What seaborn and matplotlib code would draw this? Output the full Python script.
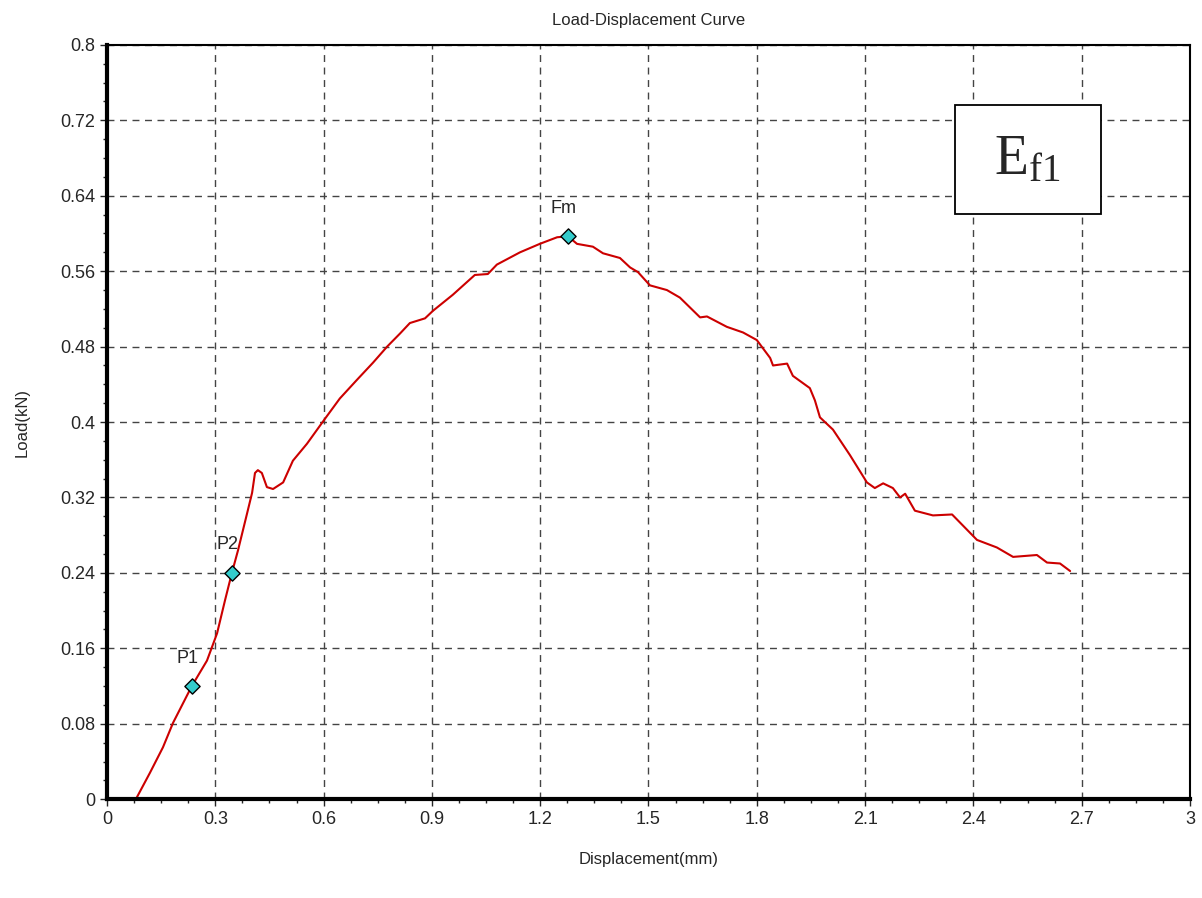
import numpy as np
import pandas as pd
import matplotlib
matplotlib.use('Agg')
import matplotlib.pyplot as plt
from matplotlib.patches import Rectangle
from matplotlib.ticker import AutoMinorLocator
import seaborn as sns

# Curve values
displacement = [0.080, 0.119, 0.155, 0.183, 0.235, 0.277, 0.305, 0.327, 0.346, 0.363,
                0.388, 0.402, 0.410, 0.418, 0.429, 0.443, 0.460, 0.488, 0.515, 0.554,
                0.601, 0.645, 0.693, 0.737, 0.776, 0.812, 0.839, 0.881, 0.903, 0.958,
                1.019, 1.055, 1.080, 1.144, 1.199, 1.247, 1.277, 1.302, 1.346, 1.374,
                1.421, 1.449, 1.471, 1.504, 1.551, 1.587, 1.643, 1.662, 1.717, 1.762,
                1.800, 1.837, 1.845, 1.884, 1.900, 1.947, 1.961, 1.975, 2.011, 2.058,
                2.105, 2.127, 2.150, 2.177, 2.197, 2.211, 2.238, 2.288, 2.341, 2.410,
                2.465, 2.510, 2.576, 2.604, 2.640, 2.668]
load = [0.000, 0.028, 0.055, 0.081, 0.120, 0.147, 0.176, 0.211, 0.240, 0.264,
        0.303, 0.325, 0.346, 0.349, 0.346, 0.331, 0.329, 0.336, 0.359, 0.377,
        0.402, 0.425, 0.445, 0.463, 0.480, 0.494, 0.505, 0.510, 0.518, 0.535,
        0.556, 0.557, 0.567, 0.580, 0.589, 0.596, 0.597, 0.589, 0.586, 0.579,
        0.574, 0.564, 0.559, 0.545, 0.540, 0.532, 0.511, 0.512, 0.501, 0.495,
        0.487, 0.468, 0.460, 0.462, 0.449, 0.436, 0.423, 0.405, 0.392, 0.365,
        0.336, 0.330, 0.335, 0.330, 0.320, 0.324, 0.306, 0.301, 0.302, 0.275,
        0.267, 0.257, 0.259, 0.251, 0.250, 0.242]

point_names = ['P1', 'P2', 'Fm']
point_x = [0.235, 0.346, 1.277]
point_y = [0.120, 0.240, 0.597]

x_ticks = [0, 0.3, 0.6, 0.9, 1.2, 1.5, 1.8, 2.1, 2.4, 2.7, 3]
x_labels = ['0', '0.3', '0.6', '0.9', '1.2', '1.5', '1.8', '2.1', '2.4', '2.7', '3']
y_ticks = [0, 0.08, 0.16, 0.24, 0.32, 0.4, 0.48, 0.56, 0.64, 0.72, 0.8]
y_labels = ['0', '0.08', '0.16', '0.24', '0.32', '0.4', '0.48', '0.56', '0.64', '0.72', '0.8']

curve = pd.DataFrame({'Displacement': displacement, 'Load': load})
points = pd.DataFrame({'name': point_names, 'x': point_x, 'y': point_y})

sns.set_style('white')
plt.rcParams['font.family'] = ['Liberation Sans', 'DejaVu Sans']
plt.rcParams['mathtext.fontset'] = 'custom'
plt.rcParams['mathtext.rm'] = 'Liberation Serif'

fig = plt.figure(figsize=(12.02, 8.98), dpi=100)
ax = fig.add_axes([0.089, 0.110, 0.901, 0.840])

sns.lineplot(data=curve, x='Displacement', y='Load', sort=False, estimator=None,
             color='#cc0000', linewidth=1.5, ax=ax)
sns.scatterplot(data=points, x='x', y='y', marker='D', s=60, color='#33cccc',
                edgecolor='black', linewidth=1, zorder=5, ax=ax)
for _, r in points.iterrows():
    ax.annotate(r['name'], (r['x'], r['y']), xytext=(-3, 14), textcoords='offset points',
                ha='center', va='bottom', fontsize=13)

ax.set_xlim(0, 3)
ax.set_ylim(0, 0.8)
ax.set_xticks(x_ticks)
ax.set_xticklabels(x_labels)
ax.set_yticks(y_ticks)
ax.set_yticklabels(y_labels)
ax.xaxis.set_minor_locator(AutoMinorLocator(4))
ax.yaxis.set_minor_locator(AutoMinorLocator(4))
ax.tick_params(which='major', direction='out', length=5, width=1, labelsize=13, bottom=True, left=True)
ax.tick_params(which='minor', direction='out', length=3, width=1, bottom=True, left=True)
ax.grid(True, which='major', linestyle=(0, (5, 4)), color='#444444', linewidth=1)

ax.spines['left'].set_linewidth(3)
ax.spines['bottom'].set_linewidth(3)
ax.spines['top'].set_linewidth(1.5)
ax.spines['right'].set_linewidth(1.5)
for s in ax.spines.values():
    s.set_color('black')

ax.set_title('Load-Displacement Curve', fontsize=12, pad=14)
ax.set_xlabel('Displacement(mm)', fontsize=12, labelpad=17)
ax.set_ylabel('Load(kN)', fontsize=12, labelpad=22)

# label box in the upper right corner
ax.add_patch(Rectangle((0.783, 0.776), 0.135, 0.144, transform=ax.transAxes,
                       facecolor='white', edgecolor='black', linewidth=1.3, zorder=6))
ax.text(0.850, 0.847, r'$\mathrm{E_{f1}}$', transform=ax.transAxes, fontsize=40,
        ha='center', va='center', zorder=7)

fig.savefig('out.png', dpi=100)
